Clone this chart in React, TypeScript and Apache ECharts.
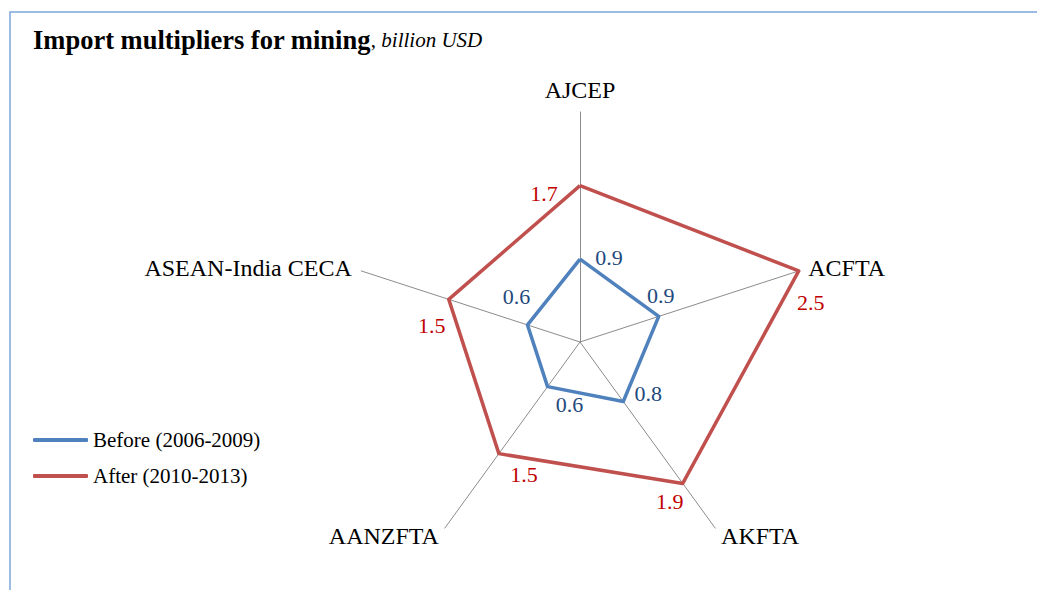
import React, { useEffect, useRef } from "react";
import * as echarts from "echarts";

// Indicators in ECharts' (counter-clockwise from top) order
const CATEGORIES = ["AJCEP", "ASEAN-India CECA", "AANZFTA", "AKFTA", "ACFTA"];
const BEFORE_VALUES = [0.9, 0.6, 0.6, 0.8, 0.9];
const AFTER_VALUES = [1.7, 1.5, 1.5, 1.9, 2.5];
const AXIS_MAX = 2.5;
const SERIES_NAMES = ["Before (2006-2009)", "After (2010-2013)"];

// label offsets (px) from each vertex, per indicator (style only)
const BEFORE_LABEL_OFFSETS = [
  [29, -2],
  [-11, -28],
  [22, 18],
  [25, -8],
  [2, -21],
];
const AFTER_LABEL_OFFSETS = [
  [-36, 8],
  [-17, 26],
  [25, 21],
  [-13, 18],
  [12, 32],
];

const FONT = "Liberation Serif";
const BLUE = "#4F81BD";
const RED = "#C0504D";
const BLUE_TEXT = "#1F497D";
const RED_TEXT = "#C00000";

function buildItems(
  name: string,
  values: number[],
  color: string,
  textColor: string,
  offsets: number[][]
) {
  const items: any[] = [
    {
      name,
      value: values,
      symbol: "none",
      lineStyle: { color, width: 3.5 },
      itemStyle: { color },
    },
  ];
  values.forEach((v, i) => {
    items.push({
      name: name + " label " + i,
      value: values.map((x, j) => (j === i ? x : "-")),
      symbol: "circle",
      symbolSize: 2,
      lineStyle: { width: 0, opacity: 0 },
      itemStyle: { color: "rgba(0,0,0,0)", borderColor: "rgba(0,0,0,0)", borderWidth: 0 },
      label: {
        show: true,
        position: [offsets[i][0] + 1, offsets[i][1] + 1],
        align: "center",
        verticalAlign: "middle",
        color: textColor,
        fontSize: 22,
        fontFamily: FONT,
        formatter: (p: any) =>
          typeof p.value === "number" && !isNaN(p.value) ? p.value.toFixed(1) : "",
      },
    });
  });
  return items;
}

export default function App() {
  const ref = useRef<HTMLDivElement>(null);
  useEffect(() => {
    document.body.style.margin = "0";
    if (!ref.current) return;
    const chart = echarts.init(ref.current, undefined, { renderer: "svg" });
    chart.setOption({
      animation: false,
      backgroundColor: "#fff",
      title: {
        text: "{b|Import multipliers for mining}{c|, }{i|billion USD}",
        left: 33,
        top: 25,
        padding: 0,
        textStyle: {
          rich: {
            b: { fontFamily: FONT, fontSize: 26.5, fontWeight: "bold", color: "#000", lineHeight: 30 },
            c: { fontFamily: FONT, fontSize: 21, fontWeight: "normal", color: "#000", lineHeight: 30 },
            i: {
              fontFamily: FONT,
              fontSize: 21,
              fontStyle: "italic",
              fontWeight: "normal",
              color: "#000",
              lineHeight: 30,
            },
          },
        },
      },
      legend: {
        orient: "vertical",
        left: 33,
        top: 429,
        padding: 0,
        itemWidth: 55,
        itemHeight: 4,
        itemGap: 14,
        icon: "roundRect",
        selectedMode: false,
        textStyle: { fontFamily: FONT, fontSize: 21, color: "#000", lineHeight: 22 },
        data: [
          { name: SERIES_NAMES[0], itemStyle: { color: BLUE, borderWidth: 0 } },
          { name: SERIES_NAMES[1], itemStyle: { color: RED, borderWidth: 0 } },
        ],
      },
      radar: {
        center: [580, 342],
        radius: 230,
        startAngle: 90,
        shape: "polygon",
        nameGap: 10,
        indicator: CATEGORIES.map((n) => ({ name: n, min: 0, max: AXIS_MAX })),
        axisName: { color: "#000", fontSize: 24, fontFamily: FONT },
        axisLine: { lineStyle: { color: "#8C8C8C", width: 1 } },
        splitLine: { show: false },
        splitArea: { show: false },
        axisTick: { show: false },
        axisLabel: { show: false },
      },
      graphic: [
        {
          type: "rect",
          shape: { x: 10, y: 12, width: 1200, height: 800 },
          style: { fill: "none", stroke: "#7EA6DA", lineWidth: 1.5 },
          silent: true,
          z: -10,
        },
      ],
      series: [
        {
          type: "radar",
          name: "before",
          silent: true,
          emphasis: { disabled: true },
          data: buildItems(SERIES_NAMES[0], BEFORE_VALUES, BLUE, BLUE_TEXT, BEFORE_LABEL_OFFSETS),
        },
        {
          type: "radar",
          name: "after",
          silent: true,
          emphasis: { disabled: true },
          data: buildItems(SERIES_NAMES[1], AFTER_VALUES, RED, RED_TEXT, AFTER_LABEL_OFFSETS),
        },
      ],
    });
    return () => chart.dispose();
  }, []);
  return <div ref={ref} style={{ width: 1037, height: 590 }} />;
}
